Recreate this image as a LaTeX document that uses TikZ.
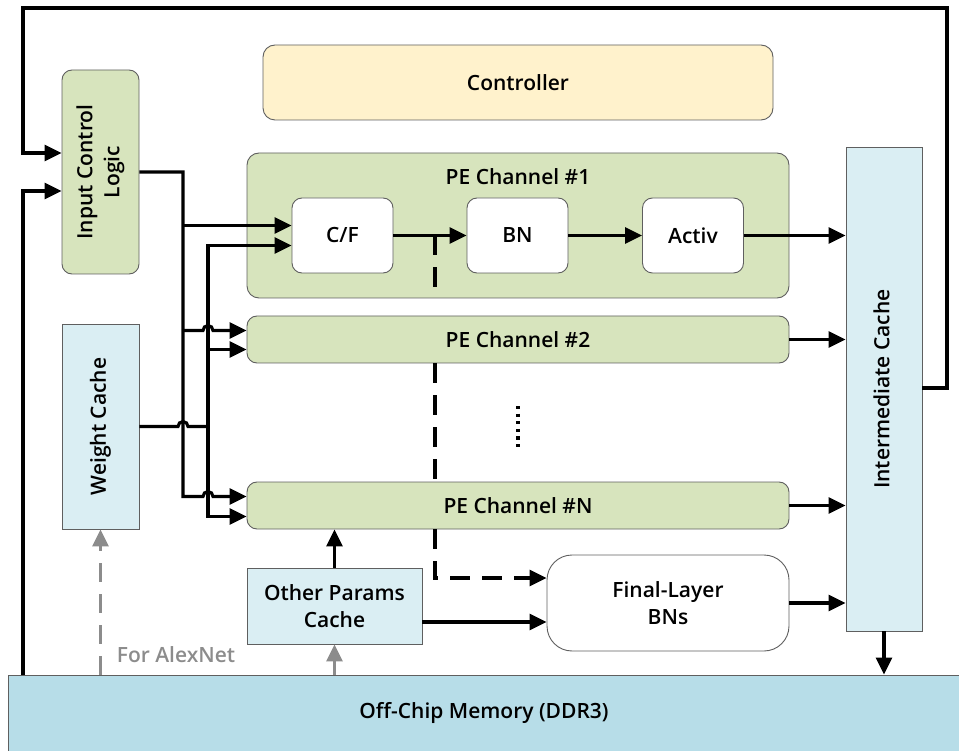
\documentclass[tikz,border=0pt]{standalone}
\usepackage{fontspec}
\setmainfont{Open Sans}[BoldFont={Open Sans Semibold}]
\usetikzlibrary{arrows.meta,calc}

\definecolor{pegreen}{HTML}{D7E4BD}
\definecolor{ctrlyellow}{HTML}{FFF2CC}
\definecolor{cachblue}{HTML}{DAEEF3}
\definecolor{memblue}{HTML}{B7DDE8}
\definecolor{boxline}{HTML}{5F5F5F}
\definecolor{hintgray}{HTML}{8C8C8C}

\newcommand\vtext[1]{\rotatebox{90}{\begin{tabular}{@{}c@{}}#1\end{tabular}}}

\begin{document}
\begin{tikzpicture}[x=1pt,y=-1pt,
  txt/.style={font=\fontsize{21}{27}\selectfont\bfseries},
  box/.style={draw=boxline,line width=0.9pt,inner sep=0pt,align=center,txt},
  greenbox/.style={box,fill=pegreen,rounded corners=10pt},
  innerbox/.style={box,fill=white,rounded corners=10pt},
  cachebox/.style={box,fill=cachblue},
  tip/.tip={Triangle[length=17pt,width=16pt]},
  line/.style={line width=3.1pt,black},
  wire/.style={line,-tip},
  dashwire/.style={line,dash pattern=on 20pt off 12pt},
  graywire/.style={line width=2.9pt,hintgray,-tip},
]
\useasboundingbox (0,0) rectangle (959,751);

% ---- blocks ----
\node[greenbox,minimum width=77pt,minimum height=204pt] (icl) at (100.5,172) {\vtext{Input Control\\Logic}};
\node[box,fill=ctrlyellow,rounded corners=12pt,minimum width=510pt,minimum height=75pt] (ctrl) at (518,82.5) {Controller};
\node[greenbox,rounded corners=12pt,minimum width=542pt,minimum height=145pt] (pe1) at (518,225.5) {};
\node[txt] (pe1t) at (518,177) {PE Channel \#1};
\node[innerbox,minimum width=101pt,minimum height=75pt] (cf) at (342.5,235.5) {C/F};
\node[innerbox,minimum width=101pt,minimum height=75pt] (bn) at (517.5,235.5) {BN};
\node[innerbox,minimum width=101pt,minimum height=75pt] (act) at (693,235.5) {Activ};

\node[cachebox,minimum width=77pt,minimum height=205pt] (wc) at (100.5,426.5) {\vtext{Weight Cache}};
\node[cachebox,minimum width=76pt,minimum height=484pt] (ic) at (884,389) {\vtext{Intermediate Cache}};
\node[cachebox,minimum width=175pt,minimum height=76pt] (opc) at (334.5,606) {Other Params\\Cache};
\node[box,fill=white,rounded corners=25pt,minimum width=242pt,minimum height=96pt] (fl) at (668,603) {Final-Layer\\BNs};
\node[box,fill=memblue,minimum width=952pt,minimum height=76pt] (mem) at (484,713) {Off-Chip Memory (DDR3)};
\node[txt,text=hintgray] (alex) at (176,655) {For AlexNet};

% ---- bus positions ----
\coordinate (ba) at (183,0);   % input control bus
\coordinate (bb) at (208,0);   % weight bus
\coordinate (dj) at (435,0);   % tap towards the final BNs
\coordinate (lp) at (23,191);  % memory feed into input control
\coordinate (fy) at (0,578);
\coordinate (oy) at (0,622);

\coordinate (cfA) at ($(cf.west)+(0,-10)$);
\coordinate (cfB) at ($(cf.west)+(0,10)$);

% dashed tap, drawn in pieces so the channels cover it
\draw[dashwire] (dj |- cf.east) -- (dj |- pe1.south);
\node[greenbox,minimum width=542pt,minimum height=47pt] (pe2) at (518,339.5) {PE Channel \#2};
\node[greenbox,minimum width=542pt,minimum height=47pt] (pen) at (518,505.5) {PE Channel \#N};
\draw[dashwire] (dj |- pe2.south) -- (dj |- pen.north);
\draw[dashwire,-tip] (dj |- pen.south) |- (fl.west |- fy);

\coordinate (pe2A) at ($(pe2.west)+(0,-9)$);
\coordinate (pe2B) at ($(pe2.west)+(0,10)$);
\coordinate (penA) at ($(pen.west)+(0,-9)$);
\coordinate (penB) at ($(pen.west)+(0,11)$);

% vertical dots between channels
\draw[line width=3.2pt,dash pattern=on 3.2pt off 4.4pt] (518,406) -- (518,449);

% ---- input control logic bus ----
\draw[wire] (icl.east) -| (ba |- penA) -- ($(bb |- penA)+(-5,0)$)
  arc[start angle=180,end angle=360,radius=5] -- (penA);
\draw[wire] (ba |- cfA) -- (cfA);
\draw[wire] (ba |- pe2A) -- ($(bb |- pe2A)+(-5,0)$)
  arc[start angle=180,end angle=360,radius=5] -- (pe2A);

% ---- weight bus ----
\draw[line] (wc.east) -- ($(ba |- wc.east)+(-5,0)$)
  arc[start angle=180,end angle=360,radius=5] -- (bb |- wc.east);
\draw[wire] (bb |- wc.east) |- (cfB);
\draw[wire] (bb |- wc.east) |- (penB);
\draw[wire] (bb |- pe2B) -- (pe2B);

% ---- channel data path ----
\draw[wire] (cf.east) -- (bn.west);
\draw[wire] (bn.east) -- (act.west);
\draw[wire] (act.east) -- (ic.west |- act.east);
\draw[wire] (pe2.east) -- (ic.west |- pe2.east);
\draw[wire] (pen.east) -- (ic.west |- pen.east);
\draw[wire] (fl.east) -- (ic.west |- fl.east);
\draw[wire] (ic.south) -- (ic.south |- mem.north);

% ---- parameters ----
\draw[wire] (opc.north) -- (opc.north |- pen.south);
\draw[wire] (opc.east |- oy) -- (fl.west |- oy);
\draw[graywire,dash pattern=on 19pt off 12pt] (wc.south |- mem.north) -- (wc.south);
\draw[graywire] (opc.south |- mem.north) -- (opc.south);

% ---- feedback loop and memory feed ----
\coordinate (tr) at (947,8);
\coordinate (tl) at (23,8);
\coordinate (ly) at (0,153);
\coordinate (ry) at (0,388);
\draw[wire] (ic.east |- ry) -- (tr |- ry) -- (tr) -- (tl) -- (tl |- ly) -- (icl.west |- ly);
\draw[wire] (lp |- mem.north) -- (lp) -- (icl.west |- lp);
\end{tikzpicture}
\end{document}
